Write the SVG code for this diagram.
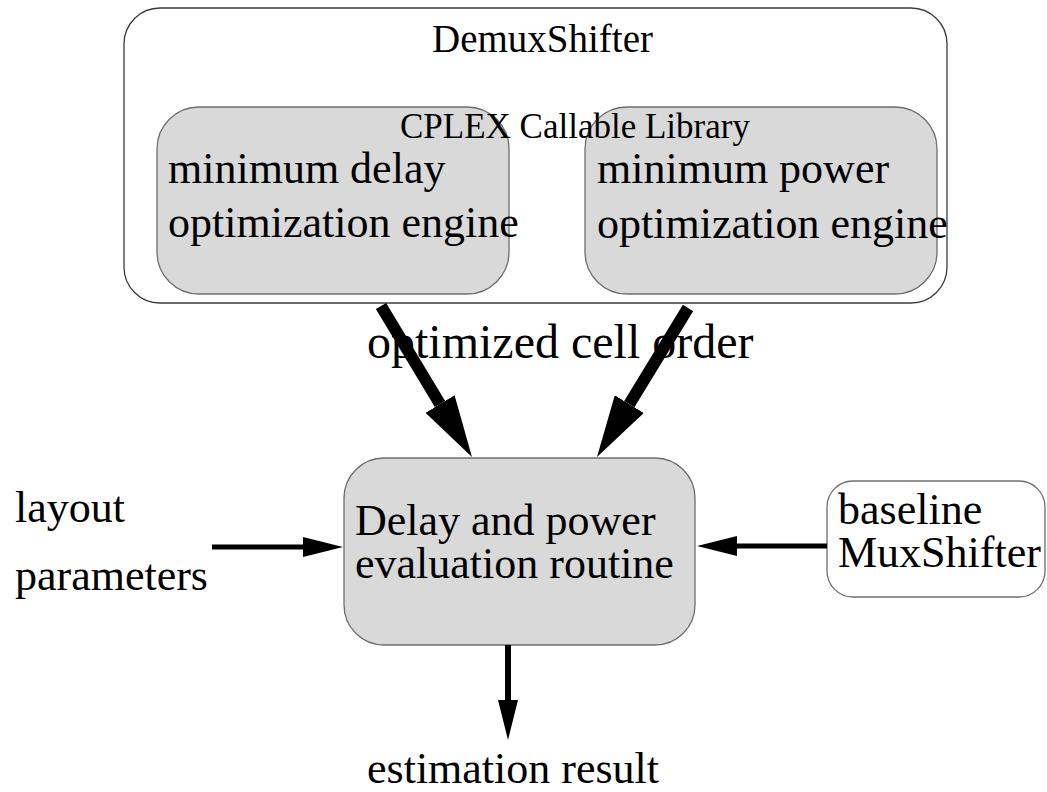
<svg xmlns="http://www.w3.org/2000/svg" width="1047" height="792" viewBox="0 0 1047 792">
  <style>
    .t { font-family: "Liberation Serif", "Times New Roman", serif; fill: #000; }
    .big { font-size: 44px; }
    .grey { fill: #d9d9d9; stroke: #6e6e6e; stroke-width: 1.3; }
    .plain { fill: #fff; stroke: #6e6e6e; stroke-width: 1.3; }
    .thick { stroke: #000; stroke-width: 12; fill: none; }
    .thin { stroke: #000; stroke-width: 5; fill: none; }
  </style>
  <defs>
    <marker id="headBig" viewBox="0 -17 62 34" refX="0" refY="0" markerWidth="62" markerHeight="34" markerUnits="userSpaceOnUse" orient="auto">
      <path d="M0,-17 L62,0 L0,17 Z" fill="#000"/>
    </marker>
    <marker id="headSmall" viewBox="0 -10 40 20" refX="0" refY="0" markerWidth="40" markerHeight="20" markerUnits="userSpaceOnUse" orient="auto">
      <path d="M0,-10 L40,0 L0,10 Z" fill="#000"/>
    </marker>
  </defs>
  <rect width="1047" height="792" fill="#fff"/>

  <g id="demuxshifter">
    <rect x="124" y="8" width="823" height="295" rx="36" ry="36" fill="#fff" stroke="#3a3a3a" stroke-width="1.3"/>
    <text class="t" x="432" y="52" font-size="39">DemuxShifter</text>
  </g>

  <g id="min-delay-engine">
    <rect class="grey" x="157" y="107" width="352" height="187" rx="42" ry="42"/>
    <text class="t big" x="168" y="183">minimum delay</text>
    <text class="t big" x="168" y="237">optimization engine</text>
  </g>

  <g id="min-power-engine">
    <rect class="grey" x="585" y="107" width="352" height="187" rx="42" ry="42"/>
    <text class="t big" x="597" y="183">minimum power</text>
    <text class="t big" x="597" y="238">optimization engine</text>
  </g>

  <g id="cplex-label">
    <text class="t" x="400" y="138" font-size="35">CPLEX Callable Library</text>
  </g>

  <g id="evaluation-routine">
    <rect class="grey" x="344" y="458" width="351" height="187" rx="40" ry="40"/>
    <text class="t big" x="355" y="535">Delay and power</text>
    <text class="t big" x="355" y="578">evaluation routine</text>
  </g>

  <g id="layout-parameters">
    <text class="t big" x="15" y="522">layout</text>
    <text class="t big" x="15" y="590">parameters</text>
  </g>

  <g id="baseline-muxshifter">
    <rect class="plain" x="827" y="481" width="218" height="116" rx="26" ry="26"/>
    <text class="t big" x="838" y="524">baseline</text>
    <text class="t big" x="838" y="567">MuxShifter</text>
  </g>

  <g id="estimation-result">
    <text class="t big" x="367" y="783">estimation result</text>
  </g>

  <g id="cell-order-label">
    <text class="t" x="367" y="358" font-size="48">optimized cell order</text>
  </g>

  <g id="connectors">
    <line class="thick" x1="381" y1="306" x2="440" y2="404" marker-end="url(#headBig)"/>
    <line class="thick" x1="688" y1="308" x2="629.3" y2="404.1" marker-end="url(#headBig)"/>
    <line class="thin" x1="212" y1="547" x2="303" y2="547" marker-end="url(#headSmall)"/>
    <line class="thin" x1="827" y1="546" x2="737" y2="546" marker-end="url(#headSmall)"/>
    <line stroke="#000" stroke-width="6" x1="508" y1="645" x2="508" y2="700" marker-end="url(#headSmall)"/>
  </g>
</svg>
